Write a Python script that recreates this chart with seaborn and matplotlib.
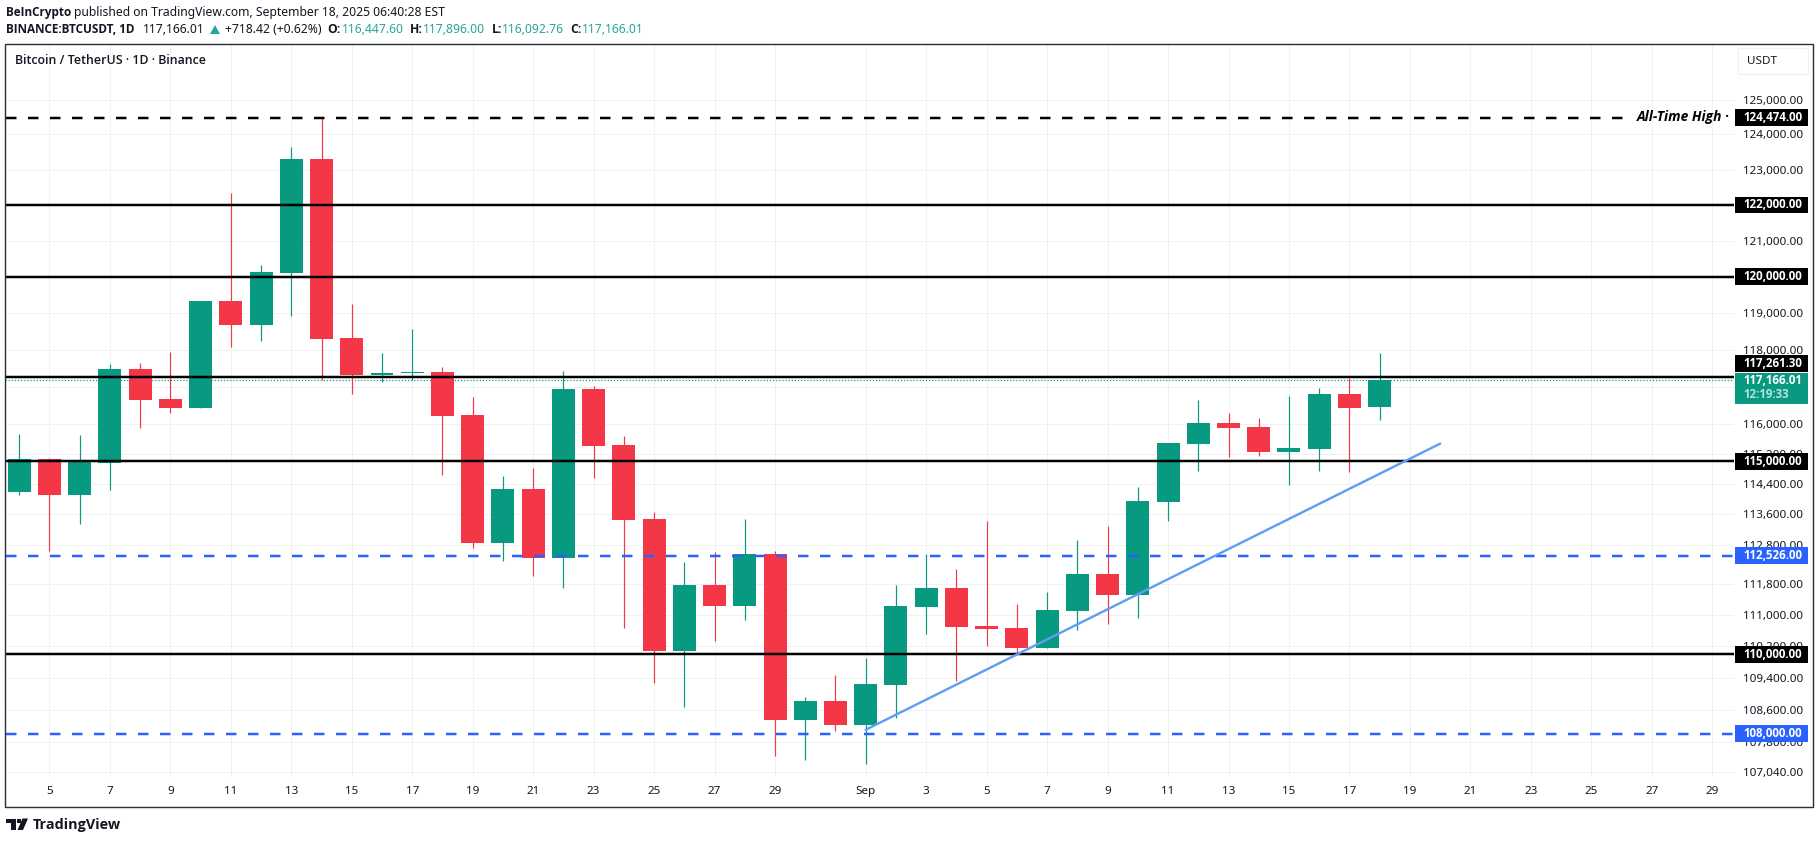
import numpy as np
import pandas as pd
import matplotlib
matplotlib.use("Agg")
import matplotlib.pyplot as plt
from matplotlib.patches import Rectangle, Polygon
from matplotlib.ticker import NullLocator, NullFormatter
import seaborn as sns

# Days counted from Aug 0 (Sep 1 = 32)
days = list(range(4, 50))
opens = [114182, 115053, 114100, 114947, 117470, 116660, 116420, 119320, 118672, 120110,
         123289, 118326, 117307, 117361, 117388, 116240, 112856, 114264, 112466, 116929,
         115425, 113475, 110076, 111760, 111240, 112570, 108340, 108810,
         108220, 109215, 111215, 111680, 110715, 110660, 110150, 111090, 112050, 111510,
         113925, 115450, 116010, 115905, 115240, 115320, 116795, 116447.60]
closes = [115053, 114100, 115030, 117470, 116634, 116420, 119320, 118672, 120136, 123289,
          118299, 117307, 117361, 117396, 116210, 112856, 114264, 112466, 116929, 115400,
          113448, 110076, 111760, 111240, 112570, 108340, 108810, 108220,
          109240, 111240, 111680, 110690, 110640, 110150, 111120, 112050, 111510, 113950,
          115480, 116010, 115880, 115240, 115345, 116795, 116420, 117166.01]
highs = [115718, 115100, 115690, 117605, 117632, 117933, 119320, 122328, 120330, 123655,
         124474, 119240, 117900, 118560, 117525, 116720, 114605, 114815, 117415, 117010,
         115665, 113660, 112360, 112620, 113475, 112650, 108910, 109470,
         109900, 111760, 112570, 112180, 113420, 111290, 111600, 112930, 113300, 114320,
         115480, 116650, 116280, 116145, 116740, 116955, 117225, 117896.00]
lows = [114100, 112648, 113343, 114240, 115886, 116290, 116420, 118083, 118245, 118930,
        117170, 116790, 117118, 117172, 114630, 112726, 112388, 112000, 111690, 114550,
        110660, 109270, 108670, 110330, 110880, 107450, 107350, 108070,
        107250, 108390, 110510, 109320, 110200, 110000, 110150, 110610, 110770, 110920,
        113420, 114735, 115105, 115130, 114370, 114735, 114710, 116092.76]

solid_levels = [122000.00, 120000.00, 117261.30, 115000.00, 110000.00]
dashed_levels = [112526.00, 108000.00]
ath_level = 124474.00
last_price = 117166.01
trend_days = [32, 51]
trend_prices = [108100, 115470]

y_ticks = [125000, 124000, 123000, 122000, 121000, 120000, 119000, 118000, 117000, 116000,
           115200, 114400, 113600, 112800, 111800, 111000, 110200, 109400, 108600, 107800, 107040]
x_ticks = [5, 7, 9, 11, 13, 15, 17, 19, 21, 23, 25, 27, 29, 32, 34, 36, 38, 40, 42, 44, 46,
           48, 50, 52, 54, 56, 58, 60]
x_labels = ["5", "7", "9", "11", "13", "15", "17", "19", "21", "23", "25", "27", "29", "Sep",
            "3", "5", "7", "9", "11", "13", "15", "17", "19", "21", "23", "25", "27", "29"]

GREEN = "#089981"
RED = "#f43747"
BLUE = "#2962ff"
TREND = "#5f9ef6"
INK = "#131722"
GRID = "#f0f1f3"
TEAL = "#26a69a"
BOLD = ["Open Sans", "DejaVu Sans"]

W, H = 1819, 843
sns.set_theme(style="white")
plt.rcParams["font.family"] = ["Noto Sans", "DejaVu Sans"]

fig = plt.figure(figsize=(W / 100, H / 100), dpi=100, facecolor="white")
ax = fig.add_axes([5 / W, 1 - 777 / H, (1734 - 5) / W, (777 - 43.5) / H])
ax.set_yscale("log")
ax.set_xlim(3.53, 60.72)
ax.set_ylim(106929, 126627)

df = pd.DataFrame({"day": days, "open": opens, "close": closes, "high": highs, "low": lows})
df["top"] = df[["open", "close"]].max(axis=1)
df["bottom"] = df[["open", "close"]].min(axis=1)
df["body"] = df["top"] - df["bottom"]
up = df[df["close"] >= df["open"]]
down = df[df["close"] < df["open"]]

px = 0.72  # one pixel, in points
ax.vlines(up["day"], up["low"], up["high"], color=GREEN, lw=1.2 * px, zorder=2)
ax.vlines(down["day"], down["low"], down["high"], color=RED, lw=1.2 * px, zorder=2)
for part, colour in ((up, GREEN), (down, RED)):
    sns.barplot(data=part, x="day", y="body", bottom=part["bottom"].to_numpy(), native_scale=True,
                width=0.76, color=colour, saturation=1, errorbar=None, ax=ax, zorder=3, linewidth=0)

ax.set_xlim(3.53, 60.72)
ax.set_ylim(106929, 126627)
ax.set(xlabel="", ylabel="")

LEVEL = 2.5 * px
ax.hlines(solid_levels, 3.53, 60.72, color="black", lw=LEVEL, zorder=4)
dash = (0, (4.2, 4.6))
ax.plot([3.56, 57.04], [ath_level, ath_level], color="black", lw=LEVEL, ls=dash, dash_capstyle="butt", zorder=4)
for lvl in dashed_levels:
    ax.plot([3.56, 60.72], [lvl, lvl], color=BLUE, lw=LEVEL, ls=dash, dash_capstyle="butt", zorder=4)
ax.plot([3.53, 60.72], [last_price, last_price], color=GREEN, lw=1.2 * px, ls=(0, (1, 1.6)), zorder=1)
ax.plot(trend_days, trend_prices, color=TREND, lw=2.4 * px, zorder=5, solid_capstyle="round")

ax.yaxis.set_minor_locator(NullLocator())
ax.yaxis.set_minor_formatter(NullFormatter())
ax.set_yticks(y_ticks)
ax.set_yticklabels([f"{v:,.2f}" for v in y_ticks])
ax.set_xticks(x_ticks)
ax.set_xticklabels(x_labels)
ax.yaxis.tick_right()
ax.tick_params(axis="y", length=0, pad=6.5, labelsize=8.4, labelcolor=INK, labelright=True, labelleft=False)
ax.tick_params(axis="x", length=0, pad=6.5, labelsize=8.4, labelcolor=INK)
ax.grid(True, color=GRID, lw=1 * px, zorder=0)
ax.set_axisbelow(True)
for s in ax.spines.values():
    s.set_visible(False)
ax.patch.set_alpha(0)


def txt(x, y, s, **kw):
    kw.setdefault("va", "center")
    kw.setdefault("ha", "left")
    kw.setdefault("fontsize", 8.75)
    kw.setdefault("color", INK)
    if kw.get("fontweight") == "bold":
        kw.setdefault("family", BOLD)
    return fig.text(x / W, 1 - y / H, s, zorder=20, **kw)


def box(x0, y0, x1, y1, colour):
    fig.add_artist(Rectangle((x0 / W, 1 - y1 / H), (x1 - x0) / W, (y1 - y0) / H, transform=fig.transFigure,
                             facecolor=colour, edgecolor="none", zorder=15))


def ypix(v):
    return H - ax.transData.transform((10, v))[1]


# Price tags
fig.canvas.draw()
tags = [(ath_level, "black", 0), (122000.00, "black", 0), (120000.00, "black", 0),
        (117261.30, "black", -13), (115000.00, "black", 0), (112526.00, BLUE, 0),
        (110000.00, "black", 0), (108000.00, BLUE, 0)]
for val, colour, shift in tags:
    yc = ypix(val) + shift
    box(1735, yc - 8.4, 1808, yc + 8.4, colour)
    txt(1743, yc, f"{val:,.2f}", color="white", fontsize=8.3, fontweight="bold")
box(1735, 373.3, 1808, 404, GREEN)
txt(1743, 381, f"{last_price:,.2f}", color="white", fontsize=8.3, fontweight="bold")
txt(1743, 395, "12:19:33", color="#b6e2da", fontsize=8.3, fontweight="bold")

# All-time-high note
txt(1637, 116.5, "All-Time High ·", fontsize=9.9, style="italic", fontweight="bold", color="black")

# Frame and unit button
fig.add_artist(Rectangle((5 / W, 1 - 806.5 / H), (1812.7 - 5) / W, (806.5 - 43.5) / H, transform=fig.transFigure,
                         facecolor="none", edgecolor="#2a2e39", lw=1.4 * px, zorder=16))
fig.add_artist(Rectangle((1738 / W, 1 - 74 / H), 70 / W, 26 / H, transform=fig.transFigure,
                         facecolor="white", edgecolor="#f0f1f4", lw=1.2 * px, zorder=14))
txt(1747, 61.5, "USDT", fontsize=8.4)

# Header
txt(15, 60.5, "Bitcoin / TetherUS · 1D · Binance", fontsize=8.9, fontweight="semibold", family=BOLD)
txt(6, 12.7, "BeInCrypto", fontweight="bold", fontsize=8.5)
txt(74, 12.7, "published on TradingView.com, September 18, 2025 06:40:28 EST")
txt(6, 29.5, "BINANCE:BTCUSDT, 1D", fontweight="bold", fontsize=8.5)
txt(143, 29.5, "117,166.01")
fig.add_artist(Polygon([(210 / W, 1 - 34 / H), (220 / W, 1 - 34 / H), (215 / W, 1 - 25 / H)],
                       transform=fig.transFigure, facecolor=TEAL, edgecolor="none", zorder=20))
txt(224.5, 29.5, "+718.42 (+0.62%)")
for xl, label, xv, value in [(327, "O:", 342, "116,447.60"), (410, "H:", 423, "117,896.00"),
                             (491.5, "L:", 502, "116,092.76"), (570, "C:", 582, "117,166.01")]:
    txt(xl, 29.5, label, fontweight="bold")
    txt(xv, 29.5, value, color=TEAL)

# Logo
fig.add_artist(Polygon([(a / W, 1 - b / H) for a, b in [(5.7, 818.5), (15.5, 818.5), (15.5, 830), (10.5, 830), (10.5, 823), (5.7, 823)]],
                       transform=fig.transFigure, facecolor=INK, edgecolor="none"))
fig.add_artist(Polygon([(a / W, 1 - b / H) for a, b in [(22.5, 818.5), (28, 818.5), (23, 830), (17.5, 830)]],
                       transform=fig.transFigure, facecolor=INK, edgecolor="none"))
fig.add_artist(Rectangle((16.8 / W, 1 - 823 / H), 4.2 / W, 4.4 / H, transform=fig.transFigure,
                         facecolor=INK, edgecolor="none"))
txt(33, 824.5, "TradingView", fontsize=10.4, fontweight="bold")

fig.savefig("out.png", dpi=100, facecolor="white")
